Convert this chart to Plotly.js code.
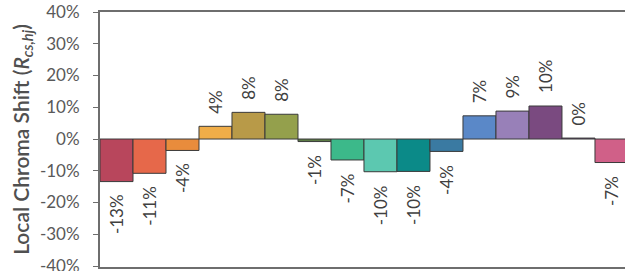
<!DOCTYPE html>
<html>
<head>
<meta charset="utf-8">
<script src="https://cdn.plot.ly/plotly-3.0.1.min.js"></script>
<style>html,body{margin:0;padding:0;background:#fff;}#chart{width:625px;height:271px;}</style>
</head>
<body>
<div id="chart"></div>
<script>
const hueBins = ["h1","h2","h3","h4","h5","h6","h7","h8","h9","h10","h11","h12","h13","h14","h15","h16"];
const chromaShift = [-13.4, -10.8, -3.6, 4.0, 8.4, 7.8, -0.8, -6.6, -10.3, -10.2, -3.9, 7.3, 8.8, 10.4, 0.3, -7.4];
const binColors = ["#b8465c","#e6684a","#e98c3c","#f0ad48","#b89a48","#94a04c","#5c7a46","#3cb98a","#5cc8b0","#0b8a88","#3a7aa2","#5a88c8","#9880b8","#7a4a80","#6a4a78","#d06088"];
const tickVals = [-40,-30,-20,-10,0,10,20,30,40];

const fontFam = "Lato, 'Open Sans', sans-serif";
const annotations = chromaShift.map((v, i) => ({
  x: i, y: v, xref: 'x', yref: 'y',
  text: Math.round(v) + '%',
  textangle: -90,
  showarrow: false,
  yanchor: v >= 0 ? 'bottom' : 'top',
  yshift: v >= 0 ? 11 : -11,
  font: {family: fontFam, size: 17, color: '#404040'}
}));

const trace = {
  type: 'bar',
  x: hueBins.map((_, i) => i),
  y: chromaShift,
  width: 1,
  marker: {color: binColors, line: {color: '#3a3a3a', width: 1}},
  hoverinfo: 'none'
};

const layout = {
  width: 625, height: 271,
  margin: {l: 100, r: 0, t: 12, b: 4},
  paper_bgcolor: '#fff', plot_bgcolor: '#fff',
  showlegend: false,
  bargap: 0,
  xaxis: {
    range: [-0.5, 15.41], showticklabels: false, ticks: '',
    showgrid: false, zeroline: false,
    showline: true, mirror: true, linecolor: '#6e6e6e', linewidth: 2,
    fixedrange: true
  },
  yaxis: {
    range: [-40.3, 40], tickvals: tickVals, ticktext: tickVals.map(t => t + '%'),
    ticks: 'outside', ticklen: 5, tickcolor: '#6e6e6e', tickwidth: 1,
    ticklabelstandoff: 10, ticklabeloverflow: 'allow',
    showgrid: false, zeroline: false,
    showline: true, linecolor: '#6e6e6e', linewidth: 2,
    tickfont: {family: fontFam, size: 17, color: '#595959'},
    title: {text: 'Local Chroma Shift (<i>R</i><sub><i>cs,hj</i></sub>)', font: {family: fontFam, size: 21, color: '#505050', weight: 600}, standoff: 5},
    fixedrange: true
  },
  annotations: annotations,
  font: {family: fontFam}
};

Plotly.newPlot('chart', [trace], layout, {displayModeBar: false, staticPlot: true});
</script>
</body>
</html>
